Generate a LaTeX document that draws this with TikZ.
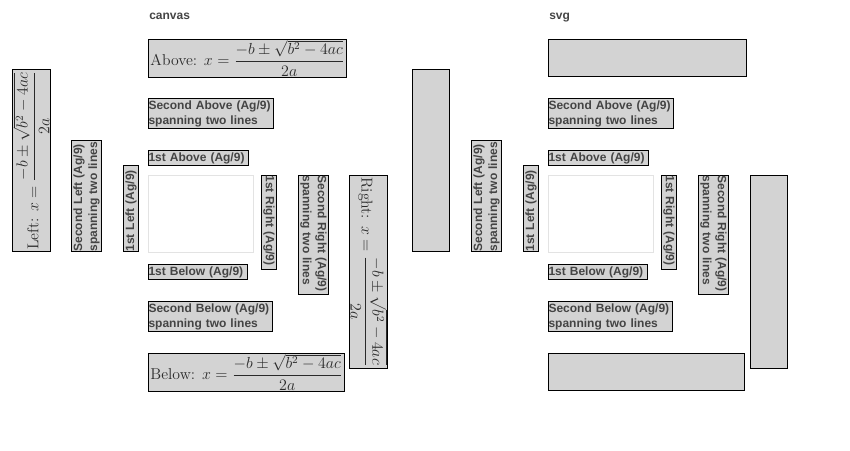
\documentclass[tikz,border=0pt]{standalone}
\usepackage{amsmath}
\usepackage{fontspec}
\setsansfont{Liberation Sans}
\usetikzlibrary{positioning}
\definecolor{boxgray}{HTML}{D3D3D3}
\definecolor{textgray}{HTML}{444444}
\definecolor{eqgray}{HTML}{2A2A2A}
\definecolor{plotline}{HTML}{E3E3E3}
\newlength{\pxu}
\setlength{\pxu}{0.75pt}
\newcommand{\px}[1]{\the\dimexpr#1\pxu\relax}
\newcommand{\lblfont}{\sffamily\bfseries\fontsize{9}{11.25}\selectfont}
\newcommand{\eqfont}{\fontsize{11.8}{13}\selectfont}
\newcommand{\quadroot}{x = \dfrac{-b \pm \sqrt{b^2-4ac}}{2a}}

\begin{document}
\begin{tikzpicture}[x=0.75pt, y=-0.75pt,
  tag/.style={draw=black, line width=0.75pt, fill=boxgray, text=textgray,
    font=\lblfont, inner sep=0pt, align=left, anchor=north west},
  hbox/.style 2 args={tag, text width=\px{#1}, minimum height=\px{#2}},
  upbox/.style 2 args={hbox={#1}{#2}, rotate=90},
  downbox/.style 2 args={hbox={#1}{#2}, rotate=-90},
  eqbox/.style 2 args={tag, font=\eqfont, text=eqgray, align=center,
    inner sep=0.5pt, minimum width=\px{#1}, minimum height=\px{#2}},
  plotarea/.style={draw=plotline, fill=white, line width=0.75pt,
    inner sep=0pt, anchor=north west},
  paneltitle/.style={font=\lblfont, text=textgray, inner sep=0pt,
    anchor=base west}]
\useasboundingbox (0,0) rectangle (850,450);
% one panel per renderer, the second one shifted by 400px
\foreach \p/\dx/\ttl/\eq in {c/0/canvas/1, s/400/svg/0} {
  \node[paneltitle] (\p-title) at ({149+\dx},19) {\ttl};
  \node[plotarea, minimum width=\px{105}, minimum height=\px{77}]
    (\p-plot) at ({148+\dx},175) {};
  % above and below
  \node[eqbox={198}{37}] (\p-above) at ({148+\dx},39)
    {\ifnum\eq=1 Above: $\quadroot$\fi};
  \node[hbox={125}{30}] (\p-secabove) at ({148+\dx},98)
    {Second Above (Ag/9)\\spanning two lines};
  \node[hbox={100}{15}] (\p-firstabove) at ({148+\dx},150)
    {1st Above (Ag/9)};
  \node[hbox={99}{15}] (\p-firstbelow) at ({148+\dx},264)
    {1st Below (Ag/9)};
  \node[hbox={124}{30}] (\p-secbelow) at ({148+\dx},301)
    {Second Below (Ag/9)\\spanning two lines};
  \node[eqbox={196}{37}] (\p-below) at ({148+\dx},353)
    {\ifnum\eq=1 Below: $\quadroot$\fi};
  % left, reading upwards
  \node[eqbox={182}{37}, rotate=90] (\p-left) at ({12+\dx},252)
    {\ifnum\eq=1 Left: $\quadroot$\fi};
  \node[upbox={111}{30}] (\p-secleft) at ({71+\dx},252)
    {Second Left (Ag/9)\\spanning two lines};
  \node[upbox={86}{15}] (\p-firstleft) at ({123+\dx},252)
    {1st Left (Ag/9)};
  % right, reading downwards
  \node[downbox={94}{15}] (\p-firstright) at ({277+\dx},175)
    {1st Right (Ag/9)};
  \node[downbox={119}{30}] (\p-secright) at ({329+\dx},175)
    {Second Right (Ag/9)\\spanning two lines};
  \node[eqbox={193}{37}, rotate=-90] (\p-right) at ({388+\dx},175)
    {\ifnum\eq=1 Right: $\quadroot$\fi};
}
\end{tikzpicture}
\end{document}
